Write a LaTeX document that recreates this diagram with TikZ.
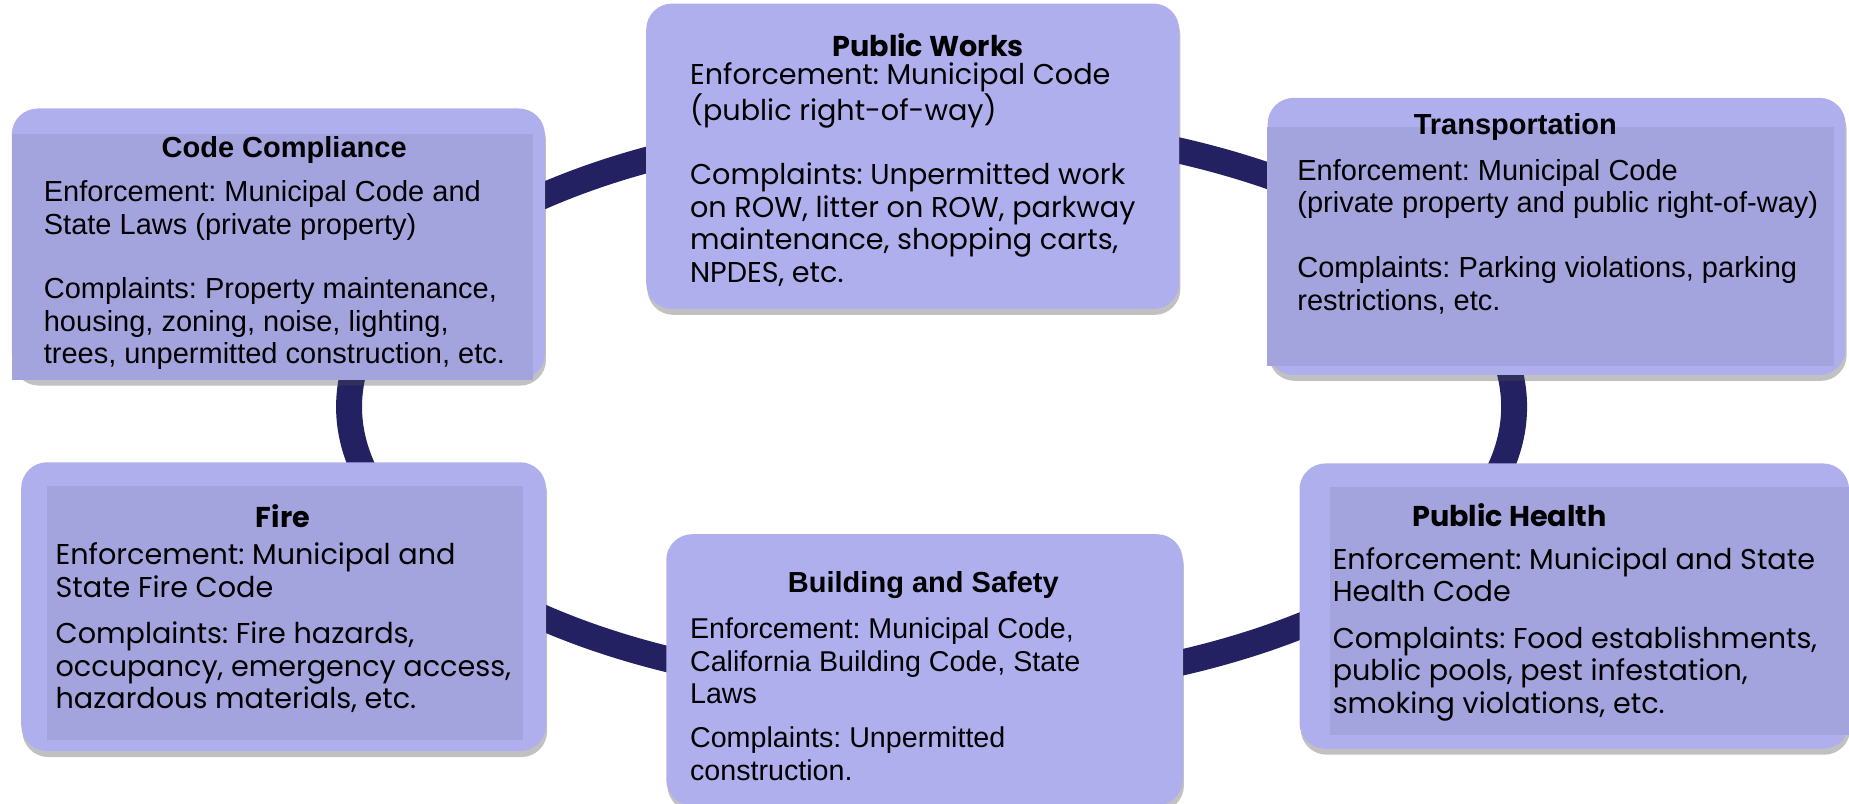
\documentclass[tikz,border=0pt]{standalone}
\usepackage{fontspec}
\setmainfont{Liberation Sans}
\newfontfamily\gothic{Poppins}
\usetikzlibrary{positioning, shadows}
\frenchspacing

\definecolor{ringblue}{RGB}{35,33,98}
\definecolor{boxout}{RGB}{175,175,238}
\definecolor{boxin}{RGB}{163,163,222}

\tikzset{
  unit/.style={draw=none, fill=boxout, rounded corners=22pt, inner sep=0pt,
    drop shadow={shadow xshift=1pt, shadow yshift=-5pt, opacity=0.35, fill=black!70}},
  panel/.style={fill=boxin},
  head/.style={inner sep=0pt},
  body/.style={align=left, inner sep=0pt, anchor=north west},
  arial/.style={font=\fontsize{24.6}{27.5}\selectfont},
  gothic/.style={font=\gothic\fontsize{24.3}{27.5}\selectfont},
}

\begin{document}
\begin{tikzpicture}[x=1pt, y=-1pt]
\useasboundingbox (0,0) rectangle (1568,681);

% the ring behind the units
\draw[ringblue, line width=22pt] (790,345) ellipse [x radius=494, y radius=240];

% Code Compliance
\node[unit, minimum width=452pt, minimum height=230pt] (cc) at (236,207) {};
\fill[panel] ([yshift=-22pt]cc.north west) rectangle ([xshift=-10pt]cc.south east);
\node[head, arial] (cc-t) at (241,127) {\bfseries Code Compliance};
\node[body, arial] (cc-b) at (37,153) {Enforcement: Municipal Code and\\State Laws (private property)\\[27.5pt]
Complaints: Property maintenance,\\housing, zoning, noise, lighting,\\trees, unpermitted construction, etc.};

% Public Works
\node[unit, minimum width=452pt, minimum height=259pt] (pw) at (774,132.5) {};
\node[head, gothic] (pw-t) at (787,38) {\bfseries Public Works};
\node[body, gothic] (pw-b) at (585,53) {Enforcement: Municipal Code\\(public right-of-way)\\[27.5pt]
Complaints: Unpermitted work\\on ROW, litter on ROW, parkway\\maintenance, shopping carts,\\NPDES, etc.};

% Transportation
\node[unit, minimum width=490pt, minimum height=235pt] (tr) at (1320,200.5) {};
\fill[panel] ([yshift=-25pt]tr.north west) rectangle ([xshift=-10pt, yshift=8pt]tr.south east);
\node[head, arial] (tr-t) at (1285,108) {\bfseries Transportation};
\node[body, arial] (tr-b) at (1100,135) {Enforcement: Municipal Code\\(private property and public right-of-way)\\[27.5pt]
Complaints: Parking violations, parking\\restrictions, etc.};

% Fire
\node[unit, minimum width=445pt, minimum height=245pt] (fire) at (240.5,514.5) {};
\fill[panel] ([xshift=22pt, yshift=-20pt]fire.north west) rectangle ([xshift=-20pt, yshift=10pt]fire.south east);
\node[head, gothic] (fire-t) at (240,438) {\bfseries Fire};
\node[body, gothic] (fire-b) at (47,460) {Enforcement: Municipal and\\State Fire Code\\[12pt]
Complaints: Fire hazards,\\occupancy, emergency access,\\hazardous materials, etc.};

% Building and Safety
\node[unit, minimum width=438pt, minimum height=230pt] (bs) at (784,568) {};
\node[head, arial] (bs-t) at (783,496) {\bfseries Building and Safety};
\node[body, font=\fontsize{24.3}{27.5}\selectfont] (bs-b) at (585,524) {Enforcement: Municipal Code,\\California Building Code, State\\Laws\\[10pt]
Complaints: Unpermitted\\construction.};

% Public Health
\node[unit, minimum width=466pt, minimum height=242pt] (ph) at (1335,514) {};
\fill[panel] ([xshift=26pt, yshift=-20pt]ph.north west) rectangle ([yshift=12pt]ph.south east);
\node[head, gothic] (ph-t) at (1280,437) {\bfseries Public Health};
\node[body, gothic] (ph-b) at (1130,464) {Enforcement: Municipal and State\\Health Code\\[12pt]
Complaints: Food establishments,\\public pools, pest infestation,\\smoking violations, etc.};

\end{tikzpicture}
\end{document}
